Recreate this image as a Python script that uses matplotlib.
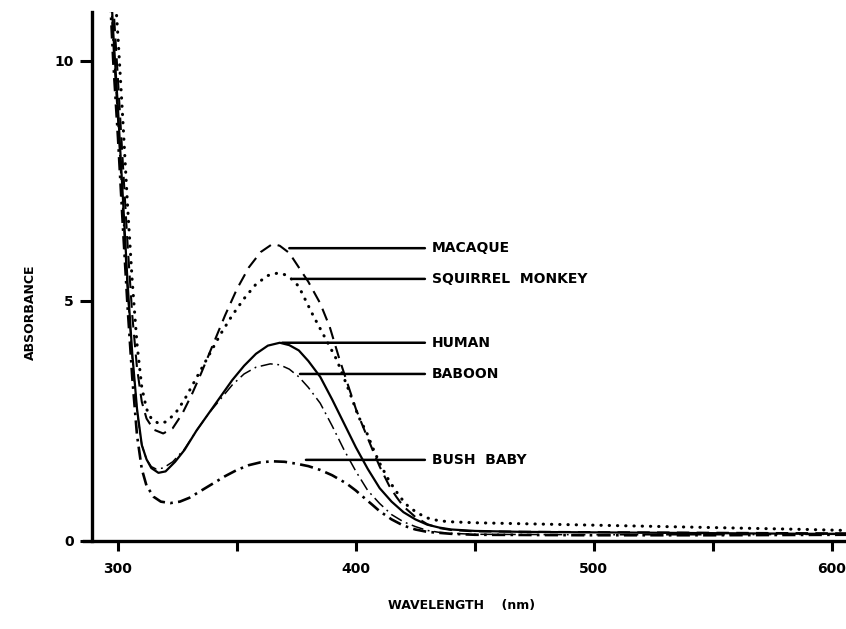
import matplotlib
matplotlib.use("Agg")
import matplotlib.pyplot as plt

# --- data ---
wl_human = [296, 298, 300, 302, 304, 306, 308, 310, 312, 314, 317, 320, 324, 328, 333, 338, 343, 348,
            353, 358, 363, 368, 372, 376, 380, 385, 390, 395, 400, 405, 410, 415, 420, 425, 430, 435,
            440, 450, 470, 500, 530, 560, 590, 606]
abs_human = [12.5, 10.6, 9.0, 7.2, 5.4, 3.9, 2.75, 2.0, 1.7, 1.52, 1.42, 1.45, 1.65, 1.9, 2.3, 2.65, 3.0, 3.35,
             3.65, 3.9, 4.07, 4.13, 4.08, 3.97, 3.75, 3.42, 2.95, 2.45, 1.95, 1.5, 1.1, 0.82, 0.6, 0.45, 0.34, 0.28,
             0.24, 0.21, 0.19, 0.18, 0.17, 0.16, 0.15, 0.15]

wl_baboon = [296, 298, 300, 302, 304, 306, 308, 310, 312, 314, 316, 319, 323, 328, 333, 338, 343, 348,
             353, 358, 364, 368, 372, 376, 380, 385, 390, 395, 400, 405, 410, 415, 420, 425, 430, 435,
             440, 450, 500, 550, 606]
abs_baboon = [12.3, 10.3, 8.7, 6.9, 5.2, 3.8, 2.7, 2.0, 1.7, 1.55, 1.5, 1.52, 1.65, 1.92, 2.3, 2.65, 2.95, 3.25,
              3.48, 3.62, 3.69, 3.67, 3.58, 3.42, 3.2, 2.87, 2.4, 1.9, 1.45, 1.05, 0.78, 0.55, 0.4, 0.3, 0.22, 0.18,
              0.16, 0.14, 0.13, 0.13, 0.14]

wl_macaque = [296, 298, 300, 302, 304, 306, 308, 310, 312, 315, 319, 323, 327, 331, 335, 340, 345, 350,
              355, 360, 365, 368, 372, 376, 380, 385, 389, 393, 396, 400, 403, 407, 410, 414, 417, 420,
              425, 430, 435, 440, 450, 480, 520, 560, 606]
abs_macaque = [13.0, 11.2, 9.6, 7.9, 6.2, 4.7, 3.6, 2.9, 2.55, 2.32, 2.24, 2.35, 2.65, 3.05, 3.5, 4.1, 4.7, 5.25,
               5.7, 6.02, 6.19, 6.15, 6.0, 5.7, 5.4, 4.95, 4.46, 3.8, 3.35, 2.75, 2.38, 1.9, 1.55, 1.15, 0.92, 0.72,
               0.5, 0.35, 0.27, 0.23, 0.2, 0.19, 0.18, 0.17, 0.16]

wl_squirrel = [296, 298, 300, 302, 304, 306, 308, 310, 312, 314, 317, 320, 324, 328, 333, 338, 343, 348,
               353, 358, 363, 367, 370, 373.5, 376, 379, 382, 386, 392, 397.5, 401, 404.6, 407, 410, 414,
               418.5, 422, 426, 430, 435, 440, 450, 470, 500, 530, 560, 590, 606]
abs_squirrel = [13.5, 12.0, 10.5, 8.8, 7.0, 5.4, 4.1, 3.2, 2.75, 2.55, 2.45, 2.48, 2.65, 2.95, 3.4, 3.85, 4.3, 4.7,
                5.05, 5.35, 5.53, 5.58, 5.55, 5.44, 5.3, 5.0, 4.7, 4.33, 3.77, 3.08, 2.6, 2.25, 1.95, 1.62, 1.25,
                0.92, 0.72, 0.58, 0.48, 0.42, 0.4, 0.38, 0.36, 0.33, 0.3, 0.27, 0.24, 0.22]

wl_bushbaby = [296, 298, 300, 302, 304, 306, 308, 310, 312, 315, 318, 322, 326, 330, 335, 340, 345, 350,
               355, 360, 365, 370, 375, 380, 385, 390, 396, 400, 403, 407, 410, 415, 420, 425, 430, 440,
               450, 500, 550, 606]
abs_bushbaby = [12.0, 10.0, 8.4, 6.6, 4.9, 3.4, 2.2, 1.5, 1.15, 0.92, 0.82, 0.79, 0.82, 0.9, 1.05, 1.2, 1.35, 1.48,
                1.58, 1.64, 1.66, 1.65, 1.61, 1.56, 1.48, 1.37, 1.2, 1.05, 0.92, 0.75, 0.62, 0.45, 0.32, 0.24, 0.19,
                0.15, 0.13, 0.12, 0.12, 0.13]

names = ["MACAQUE", "SQUIRREL  MONKEY", "HUMAN", "BABOON", "BUSH  BABY"]
label_y = [6.1, 5.46, 4.13, 3.48, 1.69]
leader_start = [372, 373.5, 369, 376.5, 379]

x_ticks = [300, 400, 500, 600]
x_minor = [350, 450, 550]
y_ticks = [0, 5, 10]

fig = plt.figure(figsize=(8.46, 6.29), dpi=100)
ax = fig.add_axes([83.5 / 846, 88 / 629, (846 - 83.5) / 846, 529 / 629])

ax.plot(wl_macaque, abs_macaque, color="black", lw=1.5, linestyle=(0, (6, 3.5)))
ax.plot(wl_squirrel, abs_squirrel, color="black", lw=2.2, linestyle=(0, (0.1, 2.6)),
        dash_capstyle="round")
ax.plot(wl_human, abs_human, color="black", lw=1.6)
ax.plot(wl_baboon, abs_baboon, color="black", lw=1.1, linestyle=(0, (8, 3, 1.2, 3)))
ax.plot(wl_bushbaby, abs_bushbaby, color="black", lw=1.9, linestyle=(0, (5, 2, 1, 2)))

# leader lines + labels
for name, y, x0 in zip(names, label_y, leader_start):
    ax.annotate("", xy=(x0, y), xytext=(429, y),
                arrowprops=dict(arrowstyle="-", color="black", lw=1.8, shrinkA=0, shrinkB=0))
    ax.text(432, y, name, fontsize=10, fontweight="bold", ha="left", va="center")

ax.set_xlim(285.5, 606)
ax.set_ylim(0, 11.02)
ax.spines["top"].set_visible(False)
ax.spines["right"].set_visible(False)
ax.spines["left"].set_position(("data", 289.1))
ax.spines["left"].set_linewidth(2.4)
ax.spines["bottom"].set_linewidth(2.4)

ax.set_xticks(x_ticks)
ax.set_xticks(x_minor, minor=True)
ax.set_yticks(y_ticks)
ax.tick_params(axis="x", which="both", direction="out", length=7, width=2.2, pad=8, labelsize=10)
ax.tick_params(axis="y", direction="out", length=9, width=2.2, pad=4, labelsize=10)
for lab in ax.get_xticklabels() + ax.get_yticklabels():
    lab.set_fontweight("bold")

fig.text(30 / 846, 1 - 312 / 629, "ABSORBANCE", rotation=90, ha="center", va="center",
         fontsize=9, fontweight="bold")
fig.text(462 / 846, 1 - 605 / 629, "WAVELENGTH    (nm)", ha="center", va="center",
         fontsize=9, fontweight="bold")

fig.savefig("out.png", dpi=100)
